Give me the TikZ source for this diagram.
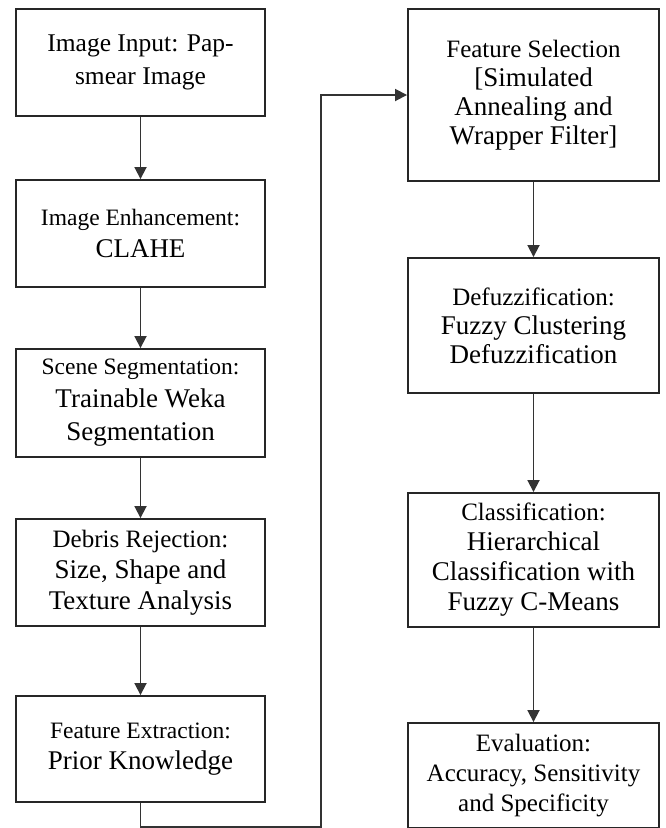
\documentclass[tikz,border=0pt]{standalone}
\usepackage{fontspec}
\setmainfont{Liberation Serif}
\usetikzlibrary{arrows.meta}
\newcommand{\fsm}{\fontsize{23.5}{31}\selectfont}
\newcommand{\fmd}{\fontsize{25}{31}\selectfont}
\newcommand{\flg}{\fontsize{27}{31}\selectfont}
\tikzset{
  box/.style={draw=black!85, line width=1.9pt, rectangle, align=center, inner sep=0pt, text=black},
  lbox/.style={box, minimum width=249pt},
  rbox/.style={box, minimum width=251pt},
  arr/.style={draw=black!80, line width=1.8pt, -{Triangle[length=12pt,width=12pt]}},
  conn/.style={draw=black!80, line width=1.8pt}
}
\begin{document}
\begin{tikzpicture}[x=1pt,y=-1pt]
\useasboundingbox (0,0) rectangle (665,828);
% left column
\node[lbox, minimum height=107pt, font=\fontsize{25.5}{33}\selectfont] (l1) at (140.5,62.5) {Image Input: Pap-\\smear Image};
\node[lbox, minimum height=107pt, font=\fontsize{25}{32}\selectfont] (l2) at (140.5,233.5) {{\fsm Image Enhancement:}\\{\flg CLAHE}};
\node[lbox, minimum height=108pt, font=\fontsize{25}{33}\selectfont] (l3) at (140.5,403) {{\fsm Scene Segmentation:}\\{\flg Trainable Weka}\\{\flg Segmentation}};
\node[lbox, minimum height=107pt, font=\fontsize{25}{31}\selectfont] (l4) at (140.5,572.5) {{\fmd Debris Rejection:}\\{\flg Size, Shape and}\\{\flg Texture Analysis}};
\node[lbox, minimum height=106pt, font=\fontsize{25}{31}\selectfont] (l5) at (140.5,749) {{\fsm Feature Extraction:}\\{\flg Prior Knowledge}};
% right column
\node[rbox, minimum height=172pt, font=\fontsize{25}{29}\selectfont] (r1) at (533.5,95) {{\fmd Feature Selection}\\{\flg [Simulated}\\{\flg Annealing and}\\{\flg Wrapper Filter]}};
\node[rbox, minimum height=135pt, font=\fontsize{25}{29}\selectfont] (r2) at (533.5,325.5) {{\fmd Defuzzification:}\\{\flg Fuzzy Clustering}\\{\flg Defuzzification}};
\node[rbox, minimum height=134pt, font=\fontsize{25}{30}\selectfont] (r3) at (533.5,560) {{\fmd Classification:}\\{\flg Hierarchical}\\{\flg Classification with}\\{\flg Fuzzy C-Means}};
\node[rbox, minimum height=105pt, font=\fontsize{25}{30}\selectfont] (r4) at (533.5,775.5) {{\fmd Evaluation:}\\{\fmd Accuracy, Sensitivity}\\{\fmd and Specificity}};
% arrows
\draw[arr] (l1) -- (l2);
\draw[arr] (l2) -- (l3);
\draw[arr] (l3) -- (l4);
\draw[arr] (l4) -- (l5);
\draw[arr] (r1) -- (r2);
\draw[arr] (r2) -- (r3);
\draw[arr] (r3) -- (r4);
% loop connector
\coordinate (c1) at (140.5,827);
\coordinate (c2) at (321,827);
\draw[arr] (l5.south) -- (c1) -- (c2) |- (r1.west);
\end{tikzpicture}
\end{document}
